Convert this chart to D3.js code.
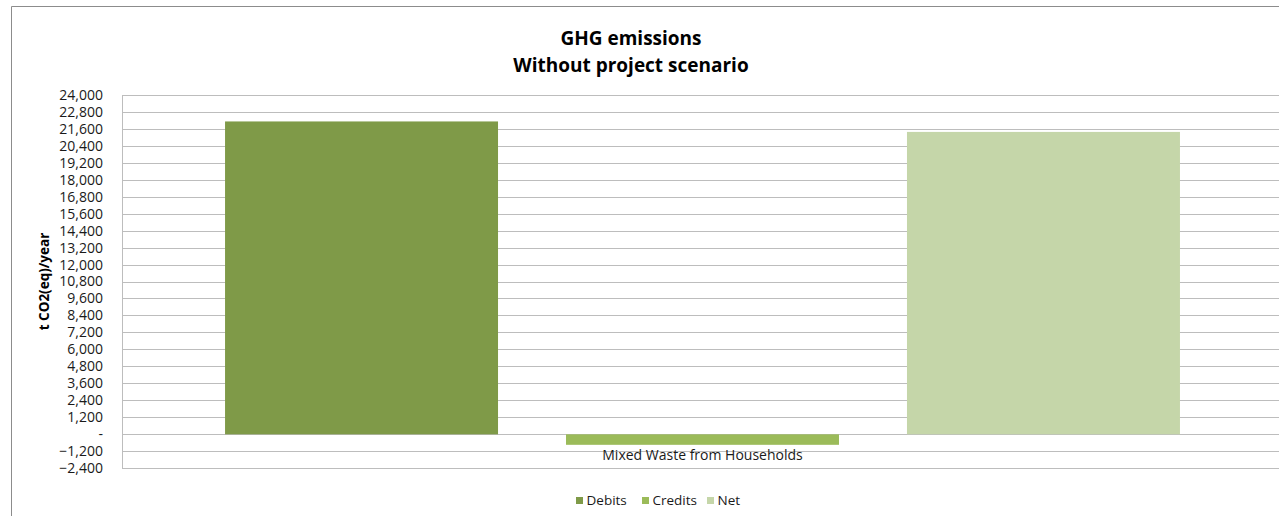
<!DOCTYPE html>
<html>
<head>
<meta charset="utf-8">
<script src="https://cdn.jsdelivr.net/npm/d3@7"></script>
<style>
  html, body { margin: 0; padding: 0; background: #fff; }
  svg { display: block; font-family: "Open Sans", "Noto Sans", sans-serif; }
</style>
</head>
<body>
<svg id="chart" width="1279" height="516"></svg>
<script>
// Chart data
const categories = ["Mixed Waste from Households"];
const seriesNames = ["Debits", "Credits", "Net"];
const debits = [22110];
const credits = [-740];
const net = [21370];
const seriesColors = ["#7f9a48", "#9bbb59", "#c5d6a9"];
const yTicks = [-2400, -1200, 0, 1200, 2400, 3600, 4800, 6000, 7200, 8400, 9600,
  10800, 12000, 13200, 14400, 15600, 16800, 18000, 19200, 20400, 21600, 22800, 24000];
const titleLines = ["GHG emissions", "Without project scenario"];
const yTitle = "t CO2(eq)/year";

const seriesValues = [debits, credits, net];

const svg = d3.select("#chart");

// Outer chart frame (only the left and top edges fall inside the window)
svg.append("path")
  .attr("d", "M11.5,516 L11.5,6.5 L1279,6.5")
  .attr("fill", "none")
  .attr("stroke", "#8c8c8c")
  .attr("stroke-width", 1);

const plot = { left: 122, right: 1283, top: 94.7, bottom: 468.3 };

const y = d3.scaleLinear()
  .domain([-2400, 24000])
  .range([plot.bottom, plot.top]);

const x0 = d3.scaleBand()
  .domain(categories)
  .range([plot.left, plot.right])
  .paddingInner(0.0974)
  .paddingOuter(0.0974);

const x1 = d3.scaleBand()
  .domain(seriesNames)
  .range([0, x0.bandwidth()])
  .paddingInner(0.1994)
  .paddingOuter(0);

// Horizontal gridlines
svg.append("g")
  .selectAll("line")
  .data(yTicks)
  .join("line")
  .attr("x1", plot.left)
  .attr("x2", plot.right)
  .attr("y1", d => Math.round(y(d)) + 0.5)
  .attr("y2", d => Math.round(y(d)) + 0.5)
  .attr("stroke", "#bdbdbd")
  .attr("stroke-width", 1);

// Plot area left edge
svg.append("line")
  .attr("x1", plot.left + 0.5).attr("x2", plot.left + 0.5)
  .attr("y1", Math.round(plot.top) + 0.5).attr("y2", Math.round(plot.bottom) + 0.5)
  .attr("stroke", "#bdbdbd");

// Y axis labels
const yAxis = d3.axisLeft(y)
  .tickValues(yTicks)
  .tickSize(0)
  .tickPadding(0)
  .tickFormat(d => d === 0 ? "-" : d3.format(",")(d));

const yg = svg.append("g")
  .attr("transform", `translate(${plot.left - 19},0)`)
  .call(yAxis);
yg.select(".domain").remove();
yg.selectAll("text")
  .attr("font-family", "'Open Sans', sans-serif")
  .attr("font-size", "14px")
  .attr("fill", "#1a1a1a");

// Bars
const groups = svg.append("g")
  .selectAll("g")
  .data(categories)
  .join("g")
  .attr("transform", d => `translate(${x0(d)},0)`);

groups.selectAll("rect")
  .data((d, i) => seriesNames.map((s, k) => ({ series: s, value: seriesValues[k][i], color: seriesColors[k] })))
  .join("rect")
  .attr("x", d => x1(d.series))
  .attr("width", x1.bandwidth())
  .attr("y", d => y(Math.max(0, d.value)))
  .attr("height", d => Math.abs(y(d.value) - y(0)))
  .attr("fill", d => d.color);

// Category label
svg.append("g")
  .selectAll("text")
  .data(categories)
  .join("text")
  .attr("x", d => x0(d) + x0.bandwidth() / 2)
  .attr("y", 460)
  .attr("text-anchor", "middle")
  .attr("font-size", "14px")
  .attr("fill", "#1a1a1a")
  .text(d => d);

// Title
svg.append("text")
  .attr("x", 631)
  .attr("text-anchor", "middle")
  .attr("font-weight", "bold")
  .attr("font-size", "19px")
  .attr("fill", "#000")
  .selectAll("tspan")
  .data(titleLines)
  .join("tspan")
  .attr("x", 631)
  .attr("y", (d, i) => 45 + i * 26.5)
  .text(d => d);

// Y axis title
svg.append("text")
  .attr("transform", `translate(49,${(plot.top + plot.bottom) / 2}) rotate(-90)`)
  .attr("text-anchor", "middle")
  .attr("font-weight", "bold")
  .attr("font-size", "13.5px")
  .attr("fill", "#000")
  .text(yTitle);

// Legend
const legendX = [576, 642, 707];
const legend = svg.append("g")
  .selectAll("g")
  .data(seriesNames)
  .join("g")
  .attr("transform", (d, i) => `translate(${legendX[i]},497)`);

legend.append("rect")
  .attr("width", 7)
  .attr("height", 7)
  .attr("fill", (d, i) => seriesColors[i]);

legend.append("text")
  .attr("x", 10.5)
  .attr("y", 7.5)
  .attr("font-size", "13.5px")
  .attr("fill", "#1a1a1a")
  .text(d => d);
</script>
</body>
</html>
